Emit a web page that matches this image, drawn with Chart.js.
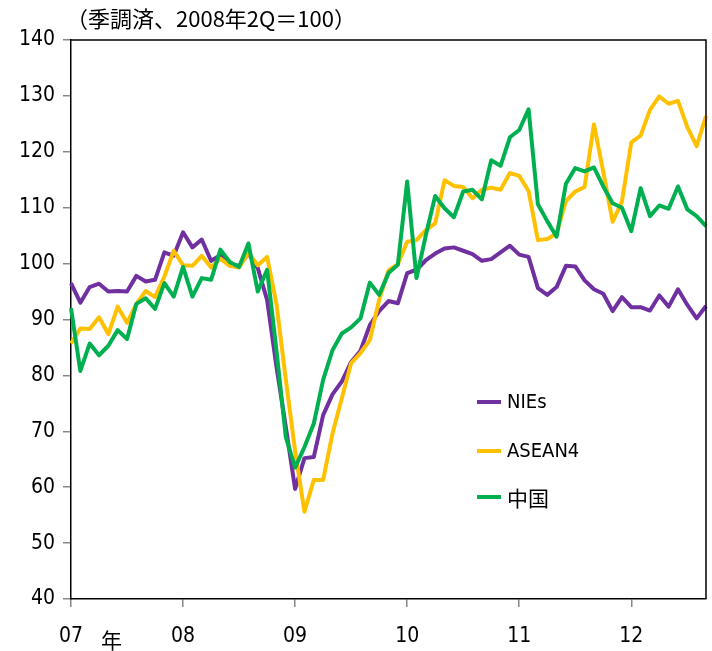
<!DOCTYPE html>
<html>
<head>
<meta charset="utf-8">
<script src="https://cdn.jsdelivr.net/npm/chart.js@4"></script>
<style>
  html, body { margin:0; padding:0; background:#fff; }
  #wrap { position:relative; width:712px; height:651px; }
</style>
</head>
<body>
<div id="wrap"><canvas id="chart" width="712" height="651"></canvas></div>
<script>
// monthly, 2007/01 .. 2012/09
const months = [];
for (let y = 7; y <= 12; y++) {
  for (let m = 1; m <= 12; m++) {
    if (y === 12 && m > 9) break;
    months.push(String(y).padStart(2, "0") + "/" + m);
  }
}
const yearTicks = ["07", "08", "09", "10", "11", "12"];

const nies = [
  96.5, 93.0, 95.8, 96.4, 95.0, 95.1, 95.0, 97.8, 96.8, 97.1, 102.0, 101.4,
  105.6, 102.9, 104.3, 100.5, 101.5, 99.8, 99.6, 101.8, 99.2, 93.5, 81.6, 70.8,
  59.7, 65.2, 65.4, 72.9, 76.6, 78.9, 82.4, 84.4, 89.0, 91.5, 93.3, 92.9,
  98.3, 98.9, 100.6, 101.8, 102.7, 102.9, 102.3, 101.7, 100.5, 100.8, 102.0, 103.2,
  101.6, 101.2, 95.6, 94.4, 95.8, 99.6, 99.5, 97.0, 95.4, 94.6, 91.5, 94.0,
  92.2, 92.2, 91.6, 94.3, 92.3, 95.4, 92.6, 90.2, 92.4
];
const asean4 = [
  85.7, 88.4, 88.3, 90.4, 87.4, 92.3, 89.4, 92.8, 95.1, 94.0, 97.7, 102.3,
  99.7, 99.6, 101.4, 99.3, 100.9, 99.6, 99.3, 101.9, 99.7, 101.2, 92.8, 79.3,
  66.5, 55.6, 61.3, 61.3, 69.6, 75.9, 82.2, 84.0, 86.3, 93.5, 98.8, 99.9,
  103.9, 104.2, 106.0, 107.2, 114.9, 113.9, 113.7, 111.7, 113.2, 113.6, 113.2, 116.2,
  115.7, 113.0, 104.2, 104.4, 105.4, 111.2, 112.9, 113.7, 124.9, 116.4, 107.5, 111.1,
  121.7, 122.9, 127.5, 129.9, 128.6, 129.1, 124.4, 121.0, 126.4
];
const china = [
  92.0, 80.8, 85.7, 83.6, 85.3, 88.1, 86.5, 92.8, 93.8, 91.9, 96.5, 94.1,
  99.4, 94.1, 97.4, 97.1, 102.5, 100.3, 99.4, 103.6, 95.0, 98.9, 84.5, 69.0,
  63.5, 67.2, 71.4, 79.2, 84.5, 87.5, 88.6, 90.2, 96.6, 94.4, 98.3, 99.8,
  114.7, 97.4, 105.1, 112.1, 109.9, 108.3, 112.9, 113.2, 111.5, 118.5, 117.5, 122.6,
  123.9, 127.6, 110.6, 107.6, 104.8, 114.3, 117.1, 116.5, 117.2, 113.8, 110.8, 110.0,
  105.8, 113.5, 108.5, 110.4, 109.8, 113.8, 109.7, 108.5, 106.7
];

const seriesNames = ["NIEs", "ASEAN4", "中国"];
const seriesColors = ["#7030A0", "#FFC000", "#00B050"];

const numFont = "'Liberation Sans Narrow', 'DejaVu Sans Condensed', sans-serif";
const cjkFont = "'Noto Sans CJK JP', sans-serif";

// title, frame, 年 label and legend drawn on the canvas
const extras = {
  id: "extras",
  afterDraw(chart) {
    const { ctx, chartArea: a } = chart;
    ctx.save();
    // frame top + right
    ctx.strokeStyle = "#000";
    ctx.lineWidth = 1.5;
    ctx.beginPath();
    ctx.moveTo(a.left, a.top);
    ctx.lineTo(a.right, a.top);
    ctx.lineTo(a.right, a.bottom);
    ctx.stroke();

    ctx.fillStyle = "#000";
    ctx.textBaseline = "middle";
    ctx.textAlign = "left";
    ctx.font = "22px " + cjkFont;
    ctx.fillText("（季調済、2008年2Q＝100）", 66, 19);

    ctx.font = "21px " + cjkFont;
    ctx.fillText("年", 101, 640);

    // legend
    const ys = [402, 451, 497];
    seriesNames.forEach((name, i) => {
      ctx.strokeStyle = seriesColors[i];
      ctx.lineWidth = 4;
      ctx.beginPath();
      ctx.moveTo(477, ys[i]);
      ctx.lineTo(501, ys[i]);
      ctx.stroke();
      ctx.fillStyle = "#000";
      ctx.font = (i === 2 ? "21px " + cjkFont : "20px " + numFont);
      ctx.fillText(name, 507, ys[i] + 1);
    });
    ctx.restore();
  }
};

const ctx = document.getElementById("chart").getContext("2d");
new Chart(ctx, {
  type: "line",
  data: {
    labels: months,
    datasets: [nies, asean4, china].map((d, i) => ({
      label: seriesNames[i],
      data: d,
      borderColor: seriesColors[i],
      borderWidth: 4,
      pointRadius: 0,
      tension: 0,
      fill: false,
      borderJoinStyle: "round",
      order: 3 - i
    }))
  },
  options: {
    responsive: false,
    animation: false,
    events: [],
    layout: { padding: { top: 40, right: 6, left: 0, bottom: 0 } },
    plugins: { legend: { display: false }, tooltip: { enabled: false }, title: { display: false } },
    scales: {
      x: {
        type: "category",
        offset: false,
        afterFit(scale) { scale.height = 52; },
        grid: { drawOnChartArea: false, drawTicks: true, tickLength: 8, color: "#888", lineWidth: 1.5 },
        border: { display: true, color: "#000", width: 1.5 },
        ticks: {
          autoSkip: false,
          maxRotation: 0,
          padding: 17,
          color: "#000",
          font: { family: numFont, size: 21 },
          callback(v, i) { return i % 12 === 0 ? yearTicks[i / 12] : null; }
        }
      },
      y: {
        min: 40,
        max: 140,
        afterFit(scale) { scale.width = 71; },
        grid: { drawOnChartArea: false, drawTicks: true, tickLength: 8, color: "#888", lineWidth: 1.5 },
        border: { display: true, color: "#000", width: 1.5 },
        ticks: {
          stepSize: 10,
          padding: 8,
          color: "#000",
          font: { family: numFont, size: 21 }
        }
      }
    }
  },
  plugins: [extras]
});
</script>
</body>
</html>
